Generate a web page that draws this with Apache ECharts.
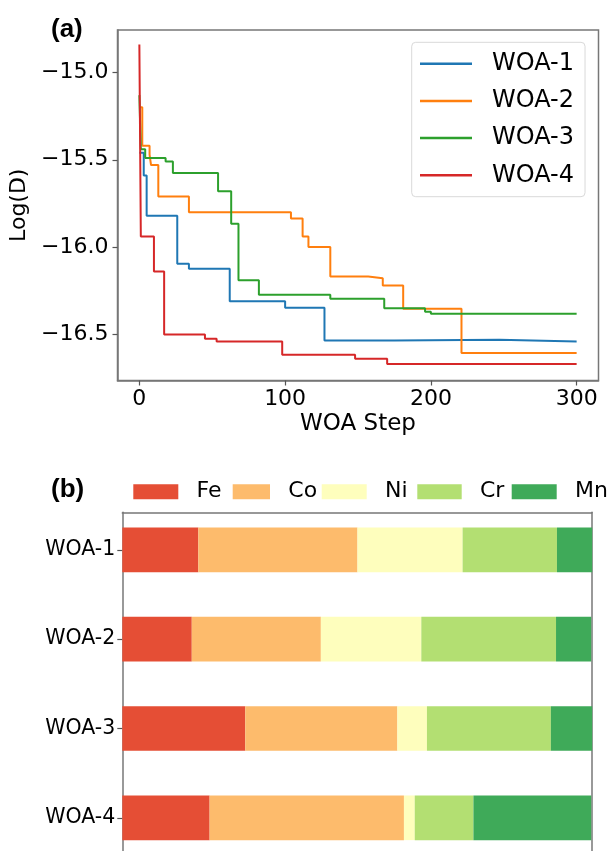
<!DOCTYPE html>
<html><head><meta charset="utf-8">
<script src="https://cdn.jsdelivr.net/npm/echarts@6/dist/echarts.min.js"></script>
<style>html,body{margin:0;padding:0;background:#fff}#c{width:608px;height:851px}</style>
</head><body><div id="c"></div>
<script>
// ---- panel (a) data: [WOA step, Log(D)] at each change point ----
const seriesNames = ['WOA-1', 'WOA-2', 'WOA-3', 'WOA-4'];
const woa1 = [[0,-15.46],[3,-15.59],[5,-15.82],[26,-16.095],[34,-16.124],[62,-16.31],[100,-16.348],[127,-16.535],[175,-16.53],[247,-16.54],[300,-16.54]];
const woa2 = [[0,-15.2],[2,-15.42],[7,-15.47],[8,-15.53],[13,-15.71],[34,-15.8],[104,-15.837],[112,-15.94],[116,-16.0],[131,-16.168],[157,-16.178],[167,-16.22],[181,-16.353],[221,-16.606],[300,-16.606]];
const woa3 = [[0,-15.13],[1,-15.44],[4,-15.49],[18,-15.51],[23,-15.576],[54,-15.68],[63,-15.866],[68,-16.19],[82,-16.273],[131,-16.296],[168,-16.35],[196,-16.37],[200,-16.382],[300,-16.382]];
const woa4 = [[0,-14.84],[1,-15.94],[10,-16.14],[17,-16.5],[45,-16.525],[53,-16.54],[98,-16.617],[148,-16.64],[170,-16.67],[300,-16.67]];
const xTicks = [0, 100, 200, 300];
const yTicks = [-16.5, -16.0, -15.5, -15.0];

// ---- panel (b) data: composition fractions ----
const categories = ['WOA-1', 'WOA-2', 'WOA-3', 'WOA-4'];
const elements = ['Fe', 'Co', 'Ni', 'Cr', 'Mn'];
const fe = [0.162, 0.148, 0.262, 0.186];
const co = [0.339, 0.275, 0.324, 0.414];
const ni = [0.224, 0.214, 0.063, 0.023];
const cr = [0.201, 0.287, 0.264, 0.125];
const mn = [0.075, 0.075, 0.088, 0.251];

// ---- styling ----
const FONT = 'DejaVu Sans';
const lineColors = ['#1f77b4', '#ff7f0e', '#2ca02c', '#d62728'];
const barColors = ['#e54e35', '#fdbb6c', '#fefebd', '#b3df72', '#3faa59'];
const legendLefts = [133.3, 232.7, 321.7, 417.3, 511.7];
const legendWidths = [45, 37.3, 45, 44.4, 45];
const frame = '#777';
const tickColor = '#555';
const frameLine = {show: true, onZero: false, lineStyle: {color: frame, width: 1.5}};

const lineData = [woa1, woa2, woa3, woa4];
const barData = [fe, co, ni, cr, mn];

const chart = echarts.init(document.getElementById('c'), null, {renderer: 'canvas'});
const option = {
  animation: false,
  backgroundColor: '#fff',
  textStyle: {fontFamily: FONT},
  title: [
    {text: '(a)', left: 51, top: 17, padding: 0, textStyle: {fontFamily: 'Liberation Sans', fontWeight: 'bold', fontSize: 26, color: '#000'}},
    {text: '(b)', left: 51, top: 477, padding: 0, textStyle: {fontFamily: 'Liberation Sans', fontWeight: 'bold', fontSize: 26, color: '#000'}}
  ],
  grid: [
    {left: 117.5, top: 30, width: 481, height: 350.5, show: true, borderColor: frame, borderWidth: 1.5, backgroundColor: 'transparent'},
    {left: 122.3, top: 549.8, width: 469.4, height: 268},
    {left: 122.3, top: 512.3, width: 469.4, bottom: 0}
  ],
  xAxis: [
    {gridIndex: 0, type: 'value', min: -15, max: 315, position: 'bottom',
     axisLine: frameLine, splitLine: {show: false},
     axisTick: {show: true, customValues: xTicks, length: 5, lineStyle: {color: tickColor, width: 1.2}},
     axisLabel: {customValues: xTicks, fontSize: 22, color: '#000', margin: 8, fontFamily: FONT},
     name: 'WOA Step', nameLocation: 'middle', nameGap: 32,
     nameTextStyle: {fontSize: 23, color: '#000', fontFamily: FONT}},
    {gridIndex: 1, type: 'value', min: 0, max: 1, show: false},
    {gridIndex: 2, type: 'value', position: 'top', axisLine: frameLine,
     axisTick: {show: false}, axisLabel: {show: false}, splitLine: {show: false}}
  ],
  yAxis: [
    {gridIndex: 0, type: 'value', min: -16.764, max: -14.757, position: 'left',
     axisLine: frameLine, splitLine: {show: false},
     axisTick: {show: true, customValues: yTicks, length: 5, lineStyle: {color: tickColor, width: 1.2}},
     axisLabel: {customValues: yTicks, fontSize: 22, color: '#000', margin: 9, fontFamily: FONT,
       formatter: v => (v < 0 ? '\u2212' : '') + Math.abs(v).toFixed(1)},
     name: 'Log(D)', nameLocation: 'middle', nameGap: 80,
     nameTextStyle: {fontSize: 22, color: '#000', fontFamily: FONT}},
    {gridIndex: 1, type: 'category', data: categories, inverse: true, boundaryGap: false,
     axisLine: {show: false, onZero: false},
     axisTick: {show: true, length: 5, lineStyle: {color: tickColor, width: 1.2}},
     axisLabel: {fontSize: 20.5, color: '#000', margin: 7, fontFamily: FONT}},
    {gridIndex: 2, type: 'value', position: 'left', axisLine: frameLine,
     axisTick: {show: false}, axisLabel: {show: false}, splitLine: {show: false}},
    {gridIndex: 2, type: 'value', position: 'right', axisLine: frameLine,
     axisTick: {show: false}, axisLabel: {show: false}, splitLine: {show: false}}
  ],
  legend: [
    {data: seriesNames, orient: 'vertical', left: 411.7, top: 42.3, icon: 'rect',
     itemWidth: 52, itemHeight: 2.5, itemGap: 11.2, padding: [8.4, 11, 8.4, 8.3],
     borderColor: '#d9d9d9', borderWidth: 1, borderRadius: 4, backgroundColor: '#fff',
     textStyle: {fontSize: 24, lineHeight: 26, color: '#000', fontFamily: FONT, padding: [0, 0, 0, 15]}}
  ].concat(elements.map((e, i) => ({
    data: [e], left: legendLefts[i], top: 480.7, padding: 0, icon: 'rect',
    itemWidth: legendWidths[i], itemHeight: 15,
    textStyle: {fontSize: 22, lineHeight: 22, color: '#000', fontFamily: FONT, padding: [0, 0, 0, 13.3]}
  }))),
  series: lineData.map((d, i) => ({
    type: 'line', name: seriesNames[i], xAxisIndex: 0, yAxisIndex: 0,
    data: d, step: 'end', symbol: 'none',
    lineStyle: {width: 2, color: lineColors[i]}, itemStyle: {color: lineColors[i]}
  })).concat(barData.map((d, i) => ({
    type: 'bar', name: elements[i], stack: 'comp', xAxisIndex: 1, yAxisIndex: 1,
    data: d, barWidth: '50%', clip: false, itemStyle: {color: barColors[i]}
  })))
};
chart.setOption(option);
</script>
</body></html>
